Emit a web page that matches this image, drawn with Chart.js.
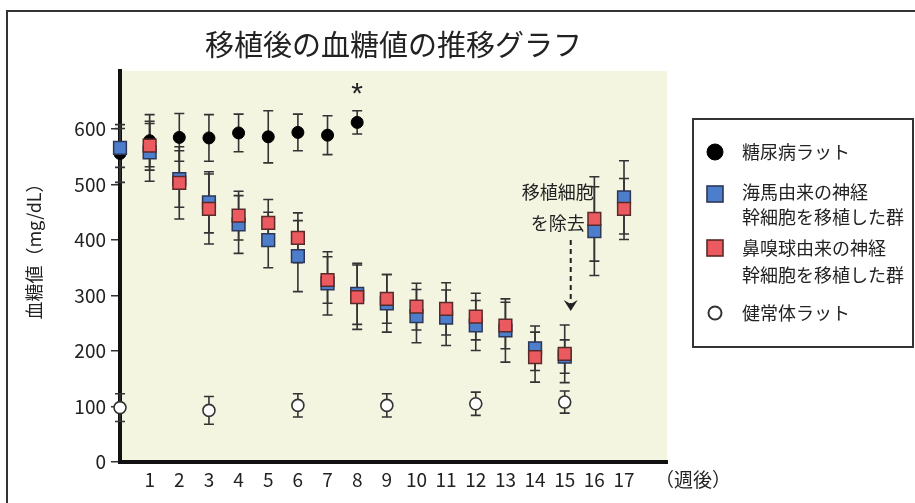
<!DOCTYPE html>
<html><head><meta charset="utf-8">
<script src="https://cdn.jsdelivr.net/npm/chart.js@4.4.0/dist/chart.umd.min.js"></script>
<style>html,body{margin:0;padding:0;background:#fff;}#wrap{width:915px;height:503px;position:relative;}</style>
</head><body><div id="wrap"><canvas id="c" width="915" height="503"></canvas></div>
<script>
// ---- data ----
const weeks = [0,1,2,3,4,5,6,7,8,9,10,11,12,13,14,15,16,17];
const weekTicks = [1,2,3,4,5,6,7,8,9,10,11,12,13,14,15,16,17];
const yTicks = [0,100,200,300,400,500,600];

const diabeticWeeks = [0,1,2,3,4,5,6,7,8];
const diabetic      = [556,579,585,584,593,586,594,589,612];
const diabeticErr   = [52,47,43,42,34,47,33,35,21];

const hippoWeeks = [0,1,2,3,4,5,6,7,8,9,10,11,12,13,14,15,16,17];
const hippo      = [566,558,510,468,428,400,371,322,303,286,263,260,246,237,205,190,416,477];
const hippoErr   = [35,52,51,55,52,50,64,57,55,52,48,50,45,57,40,30,80,66];

const olfWeeks = [1,2,3,4,5,6,7,8,9,10,11,12,13,14,15,16,17];
const olf      = [570,503,456,444,431,404,328,297,294,280,276,262,246,189,195,438,456];
const olfErr   = [44,65,63,44,42,45,42,58,44,42,47,42,42,45,52,76,55];

const healthyWeeks = [0,3,6,9,12,15];
const healthy      = [98,93,102,102,105,108];
const healthyErr   = [25,25,21,21,21,20];

const FONT = '"Noto Sans CJK JP", "Noto Sans", sans-serif';
const pts = (ws, vs) => ws.map((w,i)=>({x:w, y:vs[i]}));

// ---- plugins ----
const frameBg = {
  id:'frameBg',
  beforeDraw(chart){
    const {ctx, chartArea:a} = chart;
    ctx.save();
    ctx.fillStyle='#fff'; ctx.fillRect(0,0,chart.width,chart.height);
    ctx.strokeStyle='#333'; ctx.lineWidth=2;
    ctx.strokeRect(7,11,940,520);
    ctx.fillStyle='#f3f5e1';
    ctx.fillRect(a.left,a.top,a.right-a.left,a.bottom-a.top);
    ctx.restore();
  }
};
const errorBars = {
  id:'errorBars',
  beforeDatasetsDraw(chart){
    const {ctx, scales:{x,y}} = chart;
    ctx.save();
    ctx.strokeStyle='#333'; ctx.lineWidth=1.6;
    chart.data.datasets.slice().reverse().forEach(ds=>{
      ds.data.forEach((p,i)=>{
        const e = ds.errors[i];
        const px = x.getPixelForValue(p.x);
        const t = y.getPixelForValue(p.y+e), b = y.getPixelForValue(p.y-e);
        ctx.beginPath();
        ctx.moveTo(px,t); ctx.lineTo(px,b);
        ctx.moveTo(px-5,t); ctx.lineTo(px+5,t);
        ctx.moveTo(px-5,b); ctx.lineTo(px+5,b);
        ctx.stroke();
      });
    });
    ctx.restore();
  }
};
const annotations = {
  id:'annotations',
  afterDraw(chart){
    const {ctx, scales:{x,y}, chartArea:a} = chart;
    ctx.save();
    ctx.fillStyle='#222';
    // asterisk over week 8
    ctx.font = '30px "Liberation Sans", sans-serif'; ctx.textAlign='center'; ctx.textBaseline='middle';
    ctx.fillText('*', x.getPixelForValue(8), y.getPixelForValue(diabetic[8]+diabeticErr[8]) - 16);
    // removal note
    const ax = x.getPixelForValue(15) + 6;
    ctx.textBaseline='middle';
    ctx.font = '18px '+FONT;
    ctx.fillText('移植細胞', ax-13, 192);
    ctx.fillText('を除去', ax-13, 223);
    const y0 = 240, y1 = 311;
    ctx.strokeStyle='#222'; ctx.lineWidth=2; ctx.setLineDash([5,4]);
    ctx.beginPath(); ctx.moveTo(ax,y0); ctx.lineTo(ax,y1-6); ctx.stroke();
    ctx.setLineDash([]);
    ctx.beginPath(); ctx.moveTo(ax,y1); ctx.lineTo(ax-7,y1-11); ctx.lineTo(ax,y1-7); ctx.lineTo(ax+7,y1-11); ctx.closePath(); ctx.fill();
    // x unit
    ctx.font = '19px '+FONT; ctx.textAlign='left';
    ctx.fillText('（週後）', a.right-12, 480);
    // y title
    ctx.save(); ctx.translate(34,247); ctx.rotate(-Math.PI/2);
    ctx.textAlign='center'; ctx.font='18px '+FONT;
    ctx.fillText('血糖値（mg/dL）',0,0); ctx.restore();
    // legend
    const L = 693, T = 119, W = 220, H = 228;
    ctx.fillStyle='#fff'; ctx.fillRect(L,T,W,H);
    ctx.strokeStyle='#333'; ctx.lineWidth=2; ctx.strokeRect(L,T,W,H);
    const rows = [[152],[192,217],[248,275],[313]];
    const marks = [152,194,248,313];
    chart.data.datasets.forEach((ds,i)=>{
      const my = marks[i], mx = 715;
      ctx.fillStyle = ds.backgroundColor; ctx.strokeStyle = ds.borderColor; ctx.lineWidth = 1.6;
      if (ds.pointStyle==='rect'){ ctx.fillRect(mx-8,my-8,16,16); ctx.strokeRect(mx-8,my-8,16,16); }
      else { ctx.beginPath(); ctx.arc(mx,my,i===0?8:6.5,0,Math.PI*2); ctx.fill(); ctx.lineWidth = i===0?1:2; ctx.stroke(); }
      ctx.fillStyle='#222'; ctx.font='18px '+FONT; ctx.textAlign='left'; ctx.textBaseline='middle';
      ds.label.split('\n').forEach((ln,k)=>ctx.fillText(ln, 742, rows[i][k]));
    });
    ctx.restore();
  }
};

new Chart(document.getElementById('c'), {
  type:'scatter',
  data:{ datasets:[
    {label:'糖尿病ラット', data:pts(diabeticWeeks,diabetic), errors:diabeticErr,
     pointStyle:'circle', pointRadius:6, backgroundColor:'#000', borderColor:'#000', borderWidth:1, order:3, clip:false},
    {label:'海馬由来の神経\n幹細胞を移植した群', data:pts(hippoWeeks,hippo), errors:hippoErr,
     pointStyle:'rect', pointRadius:9, backgroundColor:'#4c7ecb', borderColor:'#2c3656', borderWidth:1.5, order:2, clip:false},
    {label:'鼻嗅球由来の神経\n幹細胞を移植した群', data:pts(olfWeeks,olf), errors:olfErr,
     pointStyle:'rect', pointRadius:9, backgroundColor:'#ea5a5f', borderColor:'#5a2a2a', borderWidth:1.5, order:1, clip:false},
    {label:'健常体ラット', data:pts(healthyWeeks,healthy), errors:healthyErr,
     pointStyle:'circle', pointRadius:6, backgroundColor:'#fff', borderColor:'#333', borderWidth:1.6, order:0, clip:false}
  ]},
  options:{
    responsive:false, animation:false, events:[],
    layout:{padding:{left:0,right:248,top:20,bottom:0}},
    plugins:{
      legend:{display:false}, tooltip:{enabled:false},
      title:{display:true, text:'移植後の血糖値の推移グラフ', fullSize:false, color:'#222',
             font:{family:FONT, size:29, weight:'normal', lineHeight:1.2}, padding:{top:8,bottom:8}}
    },
    scales:{
      x:{type:'linear', min:0, max:18.45, position:'bottom',
         afterBuildTicks:s=>{ s.ticks = weekTicks.map(v=>({value:v})); },
         afterFit:s=>{ s.height = 41; },
         grid:{display:false, drawTicks:false},
         border:{display:true, color:'#111', width:4},
         ticks:{font:{family:FONT,size:19}, color:'#222', padding:6, maxRotation:0, autoSkip:false}},
      y:{type:'linear', min:0, max:705,
         afterBuildTicks:s=>{ s.ticks = yTicks.map(v=>({value:v})); },
         afterFit:s=>{ s.width = 120; },
         grid:{display:true, drawOnChartArea:false, drawTicks:true, tickLength:9, color:'#333', lineWidth:1.5},
         border:{display:true, color:'#111', width:4},
         ticks:{font:{family:FONT,size:19}, color:'#222', padding:5}}
    }
  },
  plugins:[frameBg, errorBars, annotations]
});
</script></body></html>
